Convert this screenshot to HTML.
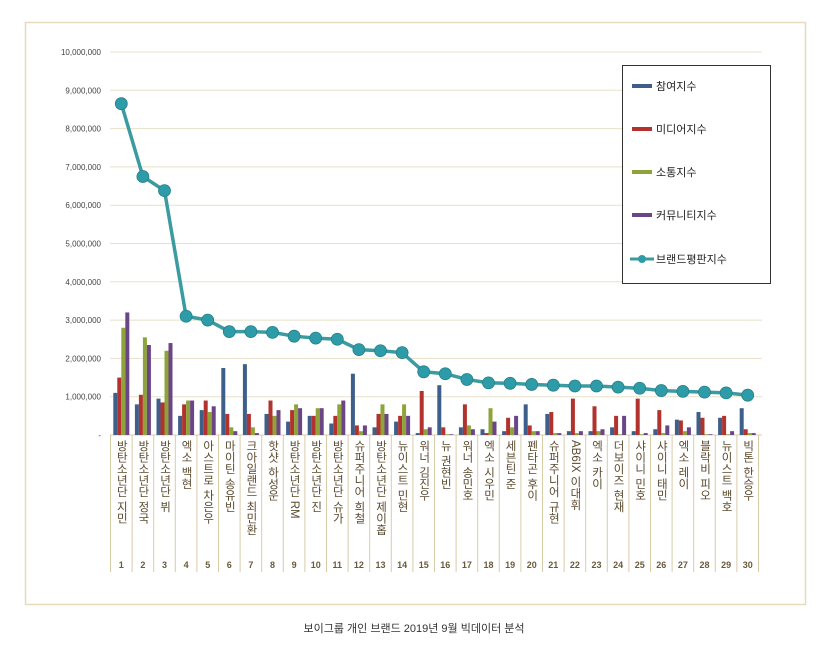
<!DOCTYPE html>
<html><head><meta charset="utf-8">
<style>
body{margin:0;background:#fff;width:828px;height:648px;overflow:hidden;font-family:"Liberation Sans","Noto Sans CJK KR",sans-serif}
svg text{font-family:"Liberation Sans","Noto Sans CJK KR",sans-serif}
</style></head><body>
<svg id="s" width="828" height="648" xmlns="http://www.w3.org/2000/svg">
<rect x="25.5" y="22.5" width="780" height="582" fill="#fff" stroke="#e6dcbc" stroke-width="1.5"/>
<text x="414" y="632" font-size="11" fill="#333" text-anchor="middle">보이그룹 개인 브랜드 2019년 9월 빅데이터 분석</text>
<g id="g"></g>
<rect x="622.5" y="65.5" width="148" height="218" fill="#fff" stroke="#333" stroke-width="1"/>
<g font-size="11" fill="#222">
<rect x="632" y="84" width="20" height="4" fill="#3e5f8a"/><text x="656" y="90">참여지수</text>
<rect x="632" y="127" width="20" height="4" fill="#b2332d"/><text x="656" y="133">미디어지수</text>
<rect x="632" y="170" width="20" height="4" fill="#8ea43a"/><text x="656" y="176">소통지수</text>
<rect x="632" y="213" width="20" height="4" fill="#6b4585"/><text x="656" y="219">커뮤니티지수</text>
<line x1="630" y1="259" x2="654" y2="259" stroke="#3c9ba0" stroke-width="3"/><circle cx="642" cy="259" r="4" fill="#2e9ca8"/><text x="656" y="263">브랜드평판지수</text>
</g>
</svg>
<script>
var names=["방탄소년단 지민","방탄소년단 정국","방탄소년단 뷔","엑소 백현","아스트로 차은우","마이틴 송유빈","크아일랜드 최민환","핫샷 하성운","방탄소년단 RM","방탄소년단 진","방탄소년단 슈가","슈퍼주니어 희철","방탄소년단 제이홉","뉴이스트 민현","워너 김진우","뉴 권현빈","워너 송민호","엑소 시우민","세븐틴 준","펜타곤 후이","슈퍼주니어 규현","AB6IX 이대휘","엑소 카이","더보이즈 현재","샤이니 민호","샤이니 태민","엑소 레이","블락비 피오","뉴이스트 백호","빅톤 한승우"];
var line=[8.65,6.75,6.38,3.1,3.0,2.7,2.7,2.68,2.58,2.53,2.5,2.23,2.2,2.15,1.65,1.6,1.45,1.36,1.35,1.32,1.3,1.28,1.28,1.25,1.22,1.16,1.14,1.12,1.1,1.04];
var bars=[[1.1,1.5,2.8,3.2],[.8,1.05,2.55,2.35],[.95,.85,2.2,2.4],[.5,.8,.9,.9],[.65,.9,.6,.75],[1.75,.55,.2,.1],[1.85,.55,.2,.05],[.55,.9,.5,.65],[.35,.65,.8,.7],[.5,.5,.7,.7],[.3,.5,.8,.9],[1.6,.25,.1,.25],[.2,.55,.8,.55],[.35,.5,.8,.5],[.05,1.15,.15,.2],[1.3,.2,.02,.02],[.2,.8,.25,.15],[.15,.05,.7,.35],[.1,.45,.2,.5],[.8,.25,.1,.1],[.55,.6,.05,.05],[.1,.95,.05,.1],[.1,.75,.1,.15],[.2,.5,.02,.5],[.1,.95,.02,.05],[.15,.65,.05,.25],[.4,.38,.1,.2],[.6,.45,.02,.02],[.45,.5,.02,.1],[.7,.15,.05,.05]];
var cols=["#3e5f8a","#b2332d","#8ea43a","#6b4585"];
var y0=435,k=38.3,x0=110.5,w=21.6,h='';
for(var i=0;i<=10;i++){var y=y0-i*k;
 if(i>0)h+='<line x1="110" y1="'+y+'" x2="762" y2="'+y+'" stroke="#e8e0c8" stroke-width="1"/>';
 h+='<text x="101" y="'+(y+3)+'" font-size="8" fill="#444" text-anchor="end">'+(i==0?'-':(i*1000000).toLocaleString('en-US'))+'</text>';}
h+='<line x1="110" y1="435" x2="762" y2="435" stroke="#d8cca6"/>';
for(var j=0;j<=30;j++){var x=x0+j*w;h+='<line x1="'+x+'" y1="435" x2="'+x+'" y2="572" stroke="#d8cca6"/>';}
for(var j=0;j<30;j++){var cx=x0+j*w+w/2;
 for(var b=0;b<4;b++){var v=bars[j][b]*k;h+='<rect x="'+(cx-8+b*4)+'" y="'+(y0-v)+'" width="4" height="'+v+'" fill="'+cols[b]+'"/>';}
 h+='<text x="'+cx+'" y="440" font-size="11.5" fill="#5a4a2e" style="writing-mode:vertical-rl;glyph-orientation-vertical:0" letter-spacing="0">'+names[j]+'</text>';
 h+='<text x="'+cx+'" y="568" font-size="9" font-weight="bold" fill="#6b5a3a" text-anchor="middle">'+(j+1)+'</text>';}
var p='';for(var j=0;j<30;j++)p+=(x0+j*w+w/2)+','+(y0-line[j]*k)+' ';
h+='<polyline points="'+p+'" fill="none" stroke="#3c9ba0" stroke-width="3.5"/>';
for(var j=0;j<30;j++)h+='<circle cx="'+(x0+j*w+w/2)+'" cy="'+(y0-line[j]*k)+'" r="6" fill="#2e9ca8" stroke="#237f88" stroke-width="0.8"/>';
document.getElementById('g').innerHTML=h;
</script>
</body></html>
